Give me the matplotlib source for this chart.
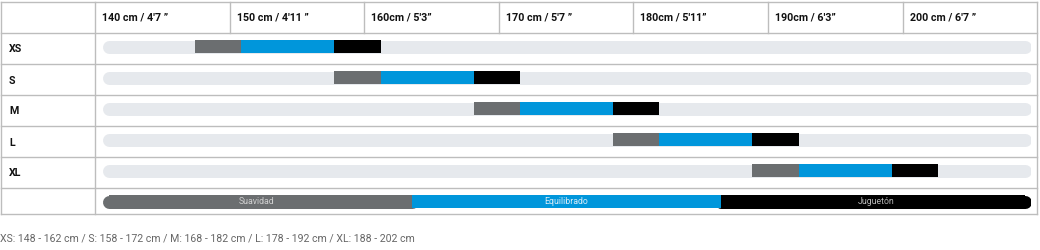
import matplotlib.pyplot as plt

# datos
tallas = ["XS", "S", "M", "L", "XL"]
inicio = [2, 5, 8, 11, 14]          # inicio de cada barra (unidades de la pista, 0-20)
tramos = [1, 2, 1]                  # suavidad / equilibrado / juguetón
cabecera = ["140 cm / 4'7 \u201d", "150 cm / 4'11 \u201d", "160cm / 5'3\u201d",
            "170 cm / 5'7 \u201d", "180cm / 5'11\u201d", "190cm / 6'3\u201d",
            "200 cm / 6'7 \u201d"]
leyenda = ["Suavidad", "Equilibrado", "Juguet\u00f3n"]
nota = "XS: 148 - 162 cm / S: 158 - 172 cm / M: 168 - 182 cm / L: 178 - 192 cm / XL: 188 - 202 cm"

colores = ["#6b6e70", "#0096db", "#000000"]
pista = "#e6e9ed"
linea = "#bdbdbd"

W, H = 1040, 250
fig = plt.figure(figsize=(W / 100, H / 100), dpi=100)
plt.rcParams['font.family'] = ['Roboto', 'DejaVu Sans']

# tabla (coordenadas en pixeles)
tab = fig.add_axes([0, 0, 1, 1])
tab.set_xlim(0, W)
tab.set_ylim(H, 0)
tab.axis("off")

x0, x1, col0, colw = 1, 1037, 95, 134.6
y_filas = [2, 33, 64, 95, 126, 157, 188, 214]
for y in y_filas:
    tab.plot([x0, x1], [y, y], color=linea, lw=1)
tab.plot([x0, x0], [2, 214], color=linea, lw=1)
tab.plot([x1, x1], [2, 214], color=linea, lw=1)
tab.plot([col0, col0], [2, 214], color=linea, lw=1)
for i in range(1, len(cabecera)):
    tab.plot([col0 + i * colw] * 2, [2, 33], color=linea, lw=1)

for i, t in enumerate(cabecera):
    tab.text(col0 + i * colw + 7, 17.5, t, fontsize=7.7, fontweight="bold",
             va="center", ha="left", color="#111111")
for i, t in enumerate(tallas):
    tab.text(9, 48.5 + 31 * i + 1, t, fontsize=7.7, fontweight="bold",
             va="center", ha="left", color="#111111")
tab.text(0, 238, nota, fontsize=7.6, color="#666666", va="center", ha="left")

# barras
ax = fig.add_axes([102 / W, 1 - 217 / H, 929 / W, 186 / H])
ax.set_xlim(0, 20)
ax.set_ylim(5.5, -0.5)
ax.axis("off")

alto = 13 / 31
lw = 13 * 0.72
r = 6.5 / 929 * 20

for i, s in enumerate(inicio):
    ax.plot([r, 20 - r], [i, i], color=pista, lw=lw, solid_capstyle="round", zorder=1)
    izq = s
    for w, c in zip(tramos, colores):
        ax.barh(i, w, left=izq, height=alto, color=c, linewidth=0, zorder=3)
        izq += w

# leyenda
fila = len(tallas)
tercio = 20 / 3
ax.plot([r, tercio], [fila, fila], color=colores[0], lw=lw, solid_capstyle="round", zorder=1)
ax.plot([2 * tercio, 20 - r], [fila, fila], color=colores[2], lw=lw, solid_capstyle="round", zorder=1)
ax.barh(fila, tercio - r, left=r, height=alto, color=colores[0], linewidth=0, zorder=2)
ax.barh(fila, tercio, left=tercio, height=alto, color=colores[1], linewidth=0, zorder=3)
ax.barh(fila, tercio - r, left=2 * tercio, height=alto, color=colores[2], linewidth=0, zorder=2)
txt_col = ["#d0d0d0", "#d8ecf8", "#b8b8b8"]
for k, t in enumerate(leyenda):
    ax.text(tercio * k + tercio / 2, fila, t, fontsize=6.3, color=txt_col[k],
            ha="center", va="center", zorder=4)

fig.savefig("out.png", dpi=100)
